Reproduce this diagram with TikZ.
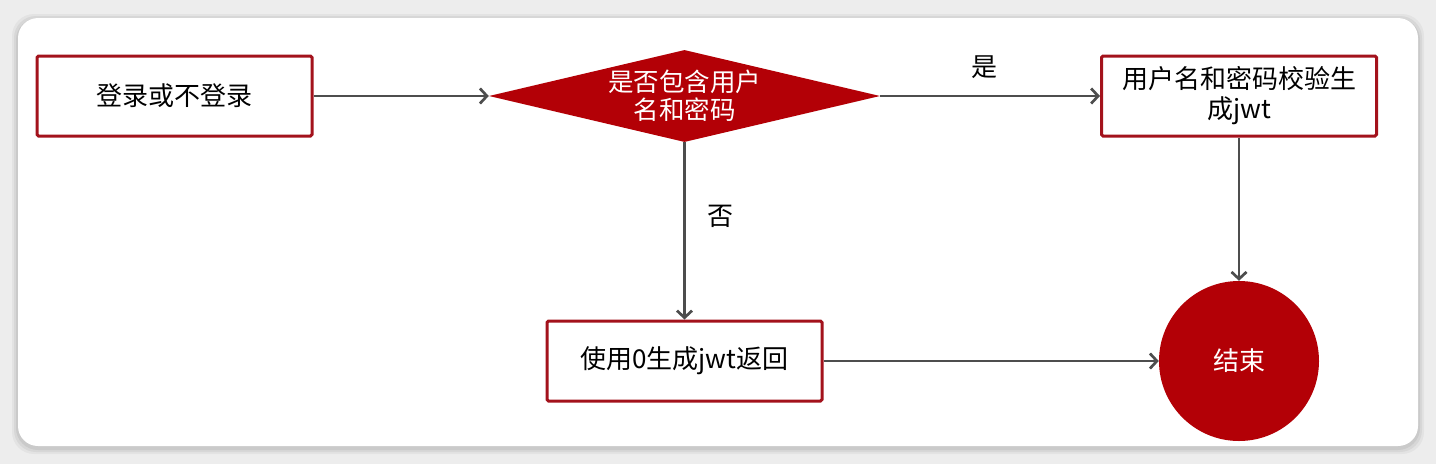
\documentclass[tikz,border=0pt]{standalone}
\usepackage{fontspec}
\newfontfamily\cjk{Noto Sans CJK SC}
\usetikzlibrary{arrows.meta,shapes.geometric}
\definecolor{bgray}{HTML}{EDEDED}
\definecolor{boxred}{HTML}{A3121C}
\definecolor{fillred}{HTML}{B30006}
\definecolor{arrgray}{HTML}{4D4D4D}
\tikzset{
  txt/.style={font=\cjk\fontsize{26}{30}\selectfont, align=center, inner sep=0pt},
  procbox/.style={draw=boxred, line width=3pt, fill=white, rounded corners=1.5pt, minimum width=275pt, minimum height=80pt, inner sep=0pt, txt},
  decide/.style={diamond, fill=fillred, minimum width=391pt, minimum height=92pt, inner sep=0pt},
  endcirc/.style={circle, fill=fillred, minimum size=160pt, inner sep=0pt, txt, text=white},
  flow/.style={draw=arrgray, line width=2.7pt, -{Straight Barb[length=7pt,width=15pt,line width=2.7pt]}},
  lbl/.style={txt, text=black}
}
\begin{document}
\begin{tikzpicture}[x=1pt,y=-1pt]
\useasboundingbox (0,0) rectangle (1436,464);
\fill[bgray] (0,0) rectangle (1436,464);
\foreach \o/\a in {6/0.04,4/0.05,2/0.06}{
  \fill[black, opacity=\a, rounded corners=22pt] (18-\o,18-\o+2) rectangle (1418+\o,446+\o+2);
}
\fill[white, rounded corners=20pt] (18,18) rectangle (1418,446);

\node[procbox] (start) at (174.5,96) {登录或不登录};
\node[decide] (dec) at (684.5,96) {};
\node[txt, text=white, font=\cjk\fontsize{25.5}{28}\selectfont] (dectext) at (684.5,96) {是否包含用户\\名和密码};
\node[procbox] (check) at (1239,96) {用户名和密码校验生\\成jwt};
\node[procbox] (zero) at (684.5,361) {使用0生成jwt返回};
\node[endcirc] (end) at (1239,361) {结束};

\draw[flow] (start.east) -- (dec.west);
\draw[flow] (dec.east) -- node[lbl, above=16pt, xshift=-6pt] (yes) {是} (check.west);
\draw[flow] (dec.south) -- node[lbl, right=22pt, pos=0.42] (no) {否} (zero.north);
\draw[flow] (check.south) -- (end.north);
\draw[flow] (zero.east) -- (end.west);
\end{tikzpicture}
\end{document}
